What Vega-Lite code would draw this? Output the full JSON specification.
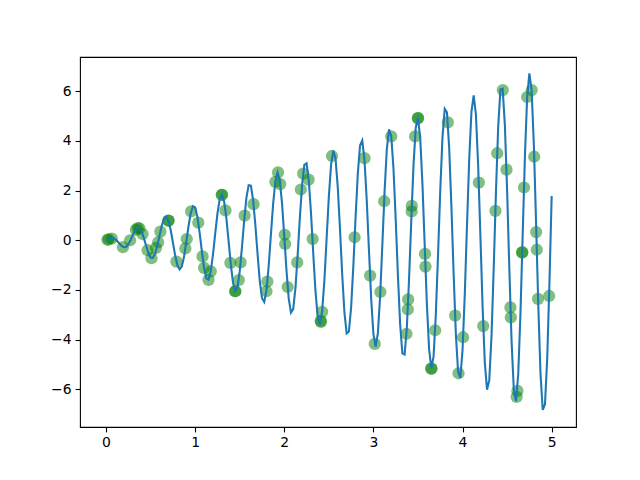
{
  "$schema": "https://vega.github.io/schema/vega-lite/v6.json",
  "width": 496,
  "height": 370,
  "autosize": {"type": "none"},
  "padding": {"left": 80, "top": 57, "right": 64, "bottom": 53},
  "background": "white",
  "config": {
    "view": {"stroke": "black", "strokeWidth": 1.1},
    "axis": {
      "domain": false,
      "grid": false,
      "ticks": true,
      "tickColor": "black",
      "tickSize": 4.9,
      "tickWidth": 1.1,
      "labelFont": "DejaVu Sans",
      "labelFontSize": 13.9,
      "labelColor": "black",
      "labelPadding": 4,
      "title": null
    }
  },
  "datasets": {
    "pts": [
      {"x": 0.015, "y": 0.02}, {"x": 0.03, "y": 0.04}, {"x": 0.065, "y": 0.07}, {"x": 0.19, "y": -0.28},
      {"x": 0.27, "y": 0.0}, {"x": 0.335, "y": 0.42}, {"x": 0.355, "y": 0.49}, {"x": 0.375, "y": 0.48},
      {"x": 0.41, "y": 0.25}, {"x": 0.466, "y": -0.4}, {"x": 0.51, "y": -0.72}, {"x": 0.56, "y": -0.31},
      {"x": 0.585, "y": -0.08}, {"x": 0.61, "y": 0.35}, {"x": 0.7, "y": 0.79}, {"x": 0.702, "y": 0.79},
      {"x": 0.79, "y": -0.86}, {"x": 0.89, "y": -0.33}, {"x": 0.905, "y": 0.05}, {"x": 0.955, "y": 1.16},
      {"x": 1.035, "y": 0.71}, {"x": 1.083, "y": -0.65}, {"x": 1.1, "y": -1.11}, {"x": 1.15, "y": -1.59},
      {"x": 1.175, "y": -1.25}, {"x": 1.298, "y": 1.83}, {"x": 1.302, "y": 1.83}, {"x": 1.34, "y": 1.2},
      {"x": 1.395, "y": -0.91}, {"x": 1.51, "y": -0.89}, {"x": 1.49, "y": -1.6}, {"x": 1.448, "y": -2.05},
      {"x": 1.452, "y": -2.05}, {"x": 1.555, "y": 0.99}, {"x": 1.655, "y": 1.45}, {"x": 1.81, "y": -1.66},
      {"x": 1.8, "y": -2.05}, {"x": 1.9, "y": 2.35}, {"x": 1.93, "y": 2.73}, {"x": 1.955, "y": 2.26},
      {"x": 2.005, "y": 0.22}, {"x": 2.01, "y": -0.15}, {"x": 2.038, "y": -1.88}, {"x": 2.145, "y": -0.89},
      {"x": 2.212, "y": 2.68}, {"x": 2.273, "y": 2.44}, {"x": 2.186, "y": 2.04}, {"x": 2.318, "y": 0.05},
      {"x": 2.425, "y": -2.88}, {"x": 2.408, "y": -3.24}, {"x": 2.412, "y": -3.28}, {"x": 2.535, "y": 3.39},
      {"x": 2.789, "y": 0.12}, {"x": 2.9, "y": 3.3}, {"x": 2.963, "y": -1.42}, {"x": 3.078, "y": -2.08},
      {"x": 3.015, "y": -4.17}, {"x": 3.121, "y": 1.57}, {"x": 3.2, "y": 4.18}, {"x": 3.39, "y": -2.38},
      {"x": 3.386, "y": -2.78}, {"x": 3.371, "y": -3.76}, {"x": 3.431, "y": 1.38}, {"x": 3.429, "y": 1.16},
      {"x": 3.468, "y": 4.18}, {"x": 3.498, "y": 4.9}, {"x": 3.502, "y": 4.92}, {"x": 3.579, "y": -0.55},
      {"x": 3.584, "y": -1.06}, {"x": 3.693, "y": -3.62}, {"x": 3.648, "y": -5.16}, {"x": 3.652, "y": -5.16},
      {"x": 3.835, "y": 4.74}, {"x": 3.917, "y": -3.03}, {"x": 4.006, "y": -3.9}, {"x": 3.955, "y": -5.35},
      {"x": 4.183, "y": 2.32}, {"x": 4.232, "y": -3.45}, {"x": 4.452, "y": 6.04}, {"x": 4.389, "y": 3.5},
      {"x": 4.493, "y": 2.84}, {"x": 4.369, "y": 1.18}, {"x": 4.537, "y": -2.7}, {"x": 4.542, "y": -3.1},
      {"x": 4.616, "y": -6.06}, {"x": 4.607, "y": -6.3}, {"x": 4.668, "y": -0.5}, {"x": 4.671, "y": -0.48},
      {"x": 4.69, "y": 2.12}, {"x": 4.725, "y": 5.76}, {"x": 4.776, "y": 6.04}, {"x": 4.804, "y": 3.36},
      {"x": 4.826, "y": 0.33}, {"x": 4.833, "y": -0.38}, {"x": 4.847, "y": -2.36}, {"x": 4.972, "y": -2.24}
    ],
    "line": [
      {"x": 0, "y": 0}, {"x": 0.025, "y": 0.034}, {"x": 0.05, "y": 0.069}, {"x": 0.075, "y": 0.08},
      {"x": 0.1, "y": 0.049}, {"x": 0.125, "y": -0.025}, {"x": 0.15, "y": -0.128}, {"x": 0.175, "y": -0.226},
      {"x": 0.2, "y": -0.282}, {"x": 0.225, "y": -0.268}, {"x": 0.25, "y": -0.17}, {"x": 0.275, "y": 0.001},
      {"x": 0.3, "y": 0.204}, {"x": 0.325, "y": 0.387}, {"x": 0.35, "y": 0.494}, {"x": 0.375, "y": 0.482},
      {"x": 0.4, "y": 0.338}, {"x": 0.425, "y": 0.084}, {"x": 0.45, "y": -0.225}, {"x": 0.475, "y": -0.509},
      {"x": 0.5, "y": -0.692}, {"x": 0.525, "y": -0.711}, {"x": 0.55, "y": -0.549}, {"x": 0.575, "y": -0.225},
      {"x": 0.6, "y": 0.184}, {"x": 0.625, "y": 0.582}, {"x": 0.65, "y": 0.863}, {"x": 0.675, "y": 0.944},
      {"x": 0.7, "y": 0.789}, {"x": 0.725, "y": 0.421}, {"x": 0.75, "y": -0.082}, {"x": 0.775, "y": -0.598},
      {"x": 0.8, "y": -0.996}, {"x": 0.825, "y": -1.167}, {"x": 0.85, "y": -1.052}, {"x": 0.875, "y": -0.665},
      {"x": 0.9, "y": -0.082}, {"x": 0.925, "y": 0.552}, {"x": 0.95, "y": 1.082}, {"x": 0.975, "y": 1.366},
      {"x": 1.0, "y": 1.321}, {"x": 1.025, "y": 0.94}, {"x": 1.05, "y": 0.303}, {"x": 1.075, "y": -0.441},
      {"x": 1.1, "y": -1.11}, {"x": 1.125, "y": -1.532}, {"x": 1.15, "y": -1.586}, {"x": 1.175, "y": -1.247},
      {"x": 1.2, "y": -0.578}, {"x": 1.225, "y": 0.263}, {"x": 1.25, "y": 1.074}, {"x": 1.275, "y": 1.648},
      {"x": 1.3, "y": 1.832}, {"x": 1.325, "y": 1.566}, {"x": 1.35, "y": 0.897}, {"x": 1.375, "y": -0.021},
      {"x": 1.4, "y": -0.97}, {"x": 1.425, "y": -1.706}, {"x": 1.45, "y": -2.046}, {"x": 1.475, "y": -1.888},
      {"x": 1.5, "y": -1.253}, {"x": 1.525, "y": -0.281}, {"x": 1.55, "y": 0.792}, {"x": 1.575, "y": 1.702},
      {"x": 1.6, "y": 2.217}, {"x": 1.625, "y": 2.197}, {"x": 1.65, "y": 1.63}, {"x": 1.675, "y": 0.634},
      {"x": 1.7, "y": -0.542}, {"x": 1.725, "y": -1.632}, {"x": 1.75, "y": -2.333}, {"x": 1.775, "y": -2.479},
      {"x": 1.8, "y": -2.014}, {"x": 1.825, "y": -1.038}, {"x": 1.85, "y": 0.225}, {"x": 1.875, "y": 1.467},
      {"x": 1.9, "y": 2.378}, {"x": 1.925, "y": 2.722}, {"x": 1.95, "y": 2.399}, {"x": 1.975, "y": 1.473},
      {"x": 2.0, "y": 0.156}, {"x": 2.025, "y": -1.232}, {"x": 2.05, "y": -2.349}, {"x": 2.075, "y": -2.91},
      {"x": 2.1, "y": -2.766}, {"x": 2.125, "y": -1.934}, {"x": 2.15, "y": -0.595}, {"x": 2.175, "y": 0.918},
      {"x": 2.2, "y": 2.239}, {"x": 2.225, "y": 3.035}, {"x": 2.25, "y": 3.097}, {"x": 2.275, "y": 2.394},
      {"x": 2.3, "y": 1.084}, {"x": 2.325, "y": -0.529}, {"x": 2.35, "y": -2.049}, {"x": 2.375, "y": -3.082},
      {"x": 2.4, "y": -3.379}, {"x": 2.425, "y": -2.853}, {"x": 2.45, "y": -1.613}, {"x": 2.475, "y": 0.069},
      {"x": 2.5, "y": 1.756}, {"x": 2.525, "y": 3.043}, {"x": 2.55, "y": 3.602}, {"x": 2.575, "y": 3.281},
      {"x": 2.6, "y": 2.141}, {"x": 2.625, "y": 0.451}, {"x": 2.65, "y": -1.385}, {"x": 2.675, "y": -2.913},
      {"x": 2.7, "y": -3.749}, {"x": 2.725, "y": -3.673}, {"x": 2.75, "y": -2.695}, {"x": 2.775, "y": -1.022},
      {"x": 2.8, "y": 0.928}, {"x": 2.825, "y": 2.685}, {"x": 2.85, "y": 3.807}, {"x": 2.875, "y": 4.01},
      {"x": 2.9, "y": 3.224}, {"x": 2.925, "y": 1.63}, {"x": 2.95, "y": -0.396}, {"x": 2.975, "y": -2.357},
      {"x": 3.0, "y": -3.773}, {"x": 3.025, "y": -4.277}, {"x": 3.05, "y": -3.737}, {"x": 3.075, "y": -2.271},
      {"x": 3.1, "y": -0.204}, {"x": 3.125, "y": 1.936}, {"x": 3.15, "y": 3.632}, {"x": 3.175, "y": 4.459},
      {"x": 3.2, "y": 4.198}, {"x": 3.225, "y": 2.897}, {"x": 3.25, "y": 0.858}, {"x": 3.275, "y": -1.42},
      {"x": 3.3, "y": -3.387}, {"x": 3.325, "y": -4.547}, {"x": 3.35, "y": -4.598}, {"x": 3.375, "y": -3.527},
      {"x": 3.4, "y": -1.559}, {"x": 3.425, "y": 0.821}, {"x": 3.45, "y": 3.031}, {"x": 3.475, "y": 4.524},
      {"x": 3.5, "y": 4.926}, {"x": 3.525, "y": 4.119}, {"x": 3.55, "y": 2.278}, {"x": 3.575, "y": -0.144},
      {"x": 3.6, "y": -2.573}, {"x": 3.625, "y": -4.389}, {"x": 3.65, "y": -5.157}, {"x": 3.675, "y": -4.669},
      {"x": 3.7, "y": -3.013}, {"x": 3.725, "y": -0.594}, {"x": 3.75, "y": 2.001}, {"x": 3.775, "y": 4.139},
      {"x": 3.8, "y": 5.284}, {"x": 3.825, "y": 5.144}, {"x": 3.85, "y": 3.734}, {"x": 3.875, "y": 1.373},
      {"x": 3.9, "y": -1.339}, {"x": 3.925, "y": -3.765}, {"x": 3.95, "y": -5.293}, {"x": 3.975, "y": -5.536},
      {"x": 4.0, "y": -4.413}, {"x": 4.025, "y": -2.197}, {"x": 4.05, "y": 0.593}, {"x": 4.075, "y": 3.272},
      {"x": 4.1, "y": 5.178}, {"x": 4.125, "y": 5.83}, {"x": 4.15, "y": 5.056}, {"x": 4.175, "y": 3.026},
      {"x": 4.2, "y": 0.225}, {"x": 4.225, "y": -2.663}, {"x": 4.25, "y": -4.931}, {"x": 4.275, "y": -6.009},
      {"x": 4.3, "y": -5.626}, {"x": 4.325, "y": -3.854}, {"x": 4.35, "y": -1.098}, {"x": 4.375, "y": 1.95},
      {"x": 4.4, "y": 4.552}, {"x": 4.425, "y": 6.063}, {"x": 4.45, "y": 6.097}, {"x": 4.475, "y": 4.632},
      {"x": 4.5, "y": 2.008}, {"x": 4.525, "y": -1.139}, {"x": 4.55, "y": -4.041}, {"x": 4.575, "y": -5.979},
      {"x": 4.6, "y": -6.467}, {"x": 4.625, "y": -5.367}, {"x": 4.65, "y": -2.935}, {"x": 4.675, "y": 0.247},
      {"x": 4.7, "y": 3.402}, {"x": 4.725, "y": 5.756}, {"x": 4.75, "y": 6.714}, {"x": 4.775, "y": 6.032},
      {"x": 4.8, "y": 3.856}, {"x": 4.825, "y": 0.71}, {"x": 4.85, "y": -2.644}, {"x": 4.875, "y": -5.382},
      {"x": 4.9, "y": -6.824}, {"x": 4.925, "y": -6.6}, {"x": 4.95, "y": -4.751}, {"x": 4.975, "y": -1.712},
      {"x": 5.0, "y": 1.779}
    ]
  },
  "layer": [
    {
      "data": {"name": "pts"},
      "mark": {"type": "circle", "size": 150, "color": "green", "opacity": 0.5},
      "encoding": {
        "x": {"field": "x", "type": "quantitative", "scale": {"domain": [-0.292, 5.273], "nice": false, "zero": false}, "axis": {"values": [0, 1, 2, 3, 4, 5], "format": "d"}},
        "y": {"field": "y", "type": "quantitative", "scale": {"domain": [-7.51, 7.37], "nice": false, "zero": false}, "axis": {"values": [-6, -4, -2, 0, 2, 4, 6], "format": "d"}}
      }
    },
    {
      "data": {"name": "line"},
      "mark": {"type": "line", "color": "#1f77b4", "strokeWidth": 2.08, "clip": true},
      "encoding": {
        "x": {"field": "x", "type": "quantitative"},
        "y": {"field": "y", "type": "quantitative"}
      }
    }
  ]
}
